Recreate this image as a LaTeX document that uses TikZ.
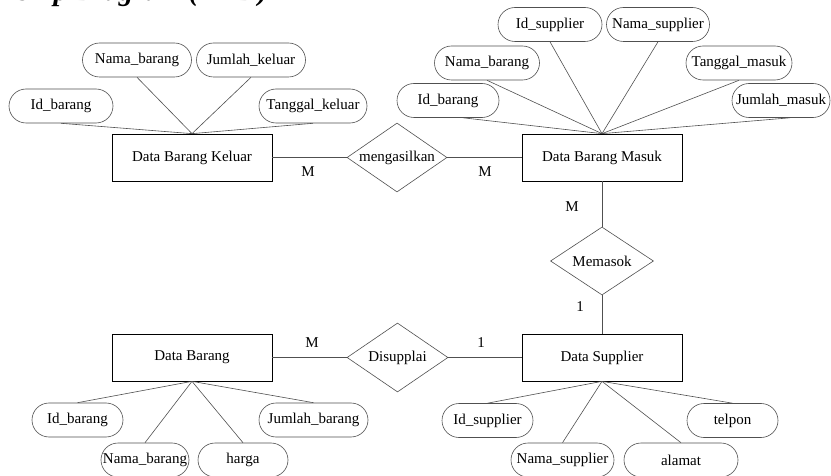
\documentclass[tikz,border=0pt]{standalone}
\usepackage{fontspec}
\setmainfont{Liberation Serif}
\usetikzlibrary{shapes.geometric}
\definecolor{lc}{RGB}{80,80,80}
\tikzset{
  every node/.style={font=\fontsize{15}{17}\selectfont, text=black},
  entity/.style={draw=black, line width=0.7pt, minimum width=160pt, minimum height=47pt, inner sep=0pt},
  attr/.style={draw=lc, line width=0.6pt, rounded corners=17pt, minimum height=34pt, inner sep=0pt},
  rel/.style={draw=lc, line width=0.6pt, shape=diamond, inner sep=0pt},
  conn/.style={draw=lc, line width=0.6pt},
  card/.style={anchor=base, inner sep=0pt},
}
\begin{document}
\begin{tikzpicture}[x=1pt, y=-1pt]
\fill[white] (0,0) rectangle (831,476);
\useasboundingbox (0,0) rectangle (831,476);

% title (cut off at the top of the picture, as in the reference)
\node[anchor=base east, inner sep=0pt, font=\fontsize{29}{33}\selectfont\bfseries\itshape] (title) at (268,1) {Entity Relationship Diagram (ERD)};

% entities
\node[entity] (dbk) at (192,157.5) {Data Barang Keluar};
\node[entity] (dbm) at (602,157.5) {Data Barang Masuk};
\node[entity] (db)  at (192,357.5) {Data Barang};
\node[entity] (ds)  at (602,357.5) {Data Supplier};

% relationships
\node[rel, minimum width=100pt, minimum height=69pt, label={center:mengasilkan}] (r1) at (397,157.5) {};
\node[rel, minimum width=103pt, minimum height=68pt, label={center:Memasok}] (r2) at (602,261) {};
\node[rel, minimum width=101pt, minimum height=69pt, label={center:Disupplai}] (r3) at (397.5,357.5) {};

% attributes of Data Barang Keluar
\node[attr, minimum width=104pt] (k1) at (61,106) {Id\_barang};
\node[attr, minimum width=109pt] (k2) at (137,60) {Nama\_barang};
\node[attr, minimum width=109pt] (k3) at (251,60) {Jumlah\_keluar};
\node[attr, minimum width=108pt] (k4) at (313,106) {Tanggal\_keluar};

% attributes of Data Barang Masuk
\node[attr, minimum width=102pt] (m1) at (448,100.5) {Id\_barang};
\node[attr, minimum width=105pt] (m2) at (487,63) {Nama\_barang};
\node[attr, minimum width=104pt] (m3) at (550,24.5) {Id\_supplier};
\node[attr, minimum width=103pt] (m4) at (658,24.5) {Nama\_supplier};
\node[attr, minimum width=106pt] (m5) at (739,63) {Tanggal\_masuk};
\node[attr, minimum width=98pt]  (m6) at (781,100.5) {Jumlah\_masuk};

% attributes of Data Barang
\node[attr, minimum width=91pt]  (b1) at (77.5,420) {Id\_barang};
\node[attr, minimum width=88pt]  (b2) at (145,460) {Nama\_barang};
\node[attr, minimum width=90pt]  (b3) at (243,460) {harga};
\node[attr, minimum width=109pt] (b4) at (313.5,420) {Jumlah\_barang};

% attributes of Data Supplier
\node[attr, minimum width=91pt]  (s1) at (487.5,420.5) {Id\_supplier};
\node[attr, minimum width=103pt] (s2) at (562.5,460) {Nama\_supplier};
\node[attr, minimum width=114pt] (s3) at (681,460) {alamat};
\node[attr, minimum width=91pt]  (s4) at (732.5,420.5) {telpon};

% attribute connectors
\foreach \a in {k1,k2,k3,k4} \draw[conn] (\a.south) -- (dbk.north);
\draw[conn] ([xshift=15pt]m1.south) -- (dbm.north);
\foreach \a in {m2,m3,m4,m5} \draw[conn] (\a.south) -- (dbm.north);
\draw[conn] ([xshift=9pt]m6.south) -- (dbm.north);
\foreach \a in {b1,b2,b3,b4} \draw[conn] (db.south) -- (\a.north);
\foreach \a in {s1,s2,s3,s4} \draw[conn] (ds.south) -- (\a.north);

% relationship connectors
\draw[conn] (dbk.east) -- (r1.west);
\draw[conn] (r1.east) -- (dbm.west);
\draw[conn] (dbm.south) -- (r2.north);
\draw[conn] (r2.south) -- (ds.north);
\draw[conn] (db.east) -- (r3.west);
\draw[conn] (r3.east) -- (ds.west);

% cardinalities
\node[card] (c1) at (308,177) {M};
\node[card] (c2) at (485,177) {M};
\node[card] (c3) at (572,212) {M};
\node[card] (c4) at (580,311) {1};
\node[card] (c5) at (481,347) {1};
\node[card] (c6) at (312,347) {M};
\end{tikzpicture}
\end{document}
